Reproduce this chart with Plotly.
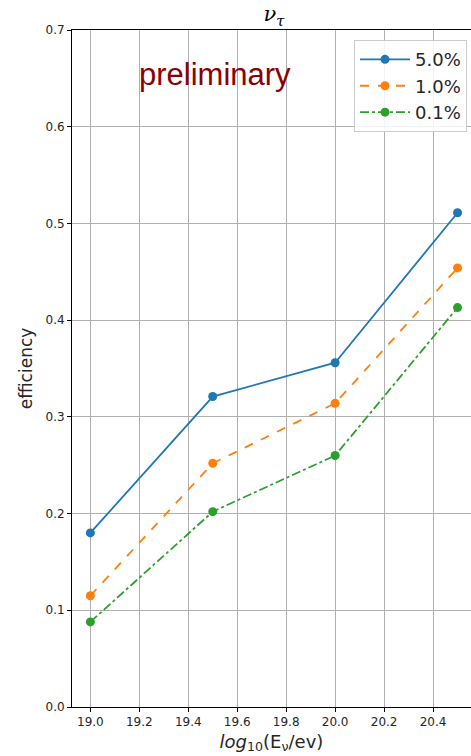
import plotly.graph_objects as go

energies = [19.0, 19.5, 20.0, 20.5]
eff_5_0 = [0.180, 0.321, 0.356, 0.511]
eff_1_0 = [0.115, 0.252, 0.314, 0.454]
eff_0_1 = [0.088, 0.202, 0.260, 0.413]
series_names = ["5.0%", "1.0%", "0.1%"]
x_ticks = [19.0, 19.2, 19.4, 19.6, 19.8, 20.0, 20.2, 20.4]
y_ticks = [0.0, 0.1, 0.2, 0.3, 0.4, 0.5, 0.6, 0.7]

colors = ["#1f77b4", "#ff7f0e", "#2ca02c"]
dashes = ["solid", "dash", "dashdot"]
values = [eff_5_0, eff_1_0, eff_0_1]

fig = go.Figure()
for name, vals, c, d in zip(series_names, values, colors, dashes):
    fig.add_trace(go.Scatter(
        x=energies, y=vals, name=name, mode="lines+markers",
        line=dict(color=c, width=1.8, dash=d),
        marker=dict(color=c, size=9),
    ))

fig.add_annotation(
    x=19.19, y=0.654, xref="x", yref="y", text="preliminary",
    showarrow=False, xanchor="left", yanchor="middle",
    font=dict(family="Liberation Sans, Arial", size=31, color="#8b0000"),
)

fig.update_layout(
    width=471, height=756,
    margin=dict(l=72, r=0, t=30, b=49),
    plot_bgcolor="white", paper_bgcolor="white",
    font=dict(family="DejaVu Sans", color="#262626"),
    title=dict(text="<i>ν</i><sub><i>τ</i></sub>", x=274 / 471, xanchor="center",
               y=1 - 14 / 756, yanchor="middle",
               font=dict(family="DejaVu Serif", size=21, color="black")),
    showlegend=True,
    legend=dict(x=0.99, y=0.985, xanchor="right", yanchor="top",
                bgcolor="rgba(255,255,255,0.85)", bordercolor="#cccccc", borderwidth=1,
                itemwidth=50,
                font=dict(family="DejaVu Sans", size=18, color="#262626")),
)

fig.update_xaxes(
    range=[18.925, 20.555], tickvals=x_ticks, ticktext=[f"{v:.1f}" for v in x_ticks],
    showgrid=True, gridcolor="#b0b0b0", gridwidth=1,
    showline=True, linecolor="black", linewidth=1, mirror=True,
    ticks="outside", ticklen=4, tickcolor="black",
    tickfont=dict(size=12, color="#262626"), zeroline=False,
    title=dict(text="<i>log</i><sub>10</sub>(E<sub>ν</sub>/ev)", font=dict(size=18, color="#262626"), standoff=6),
)
fig.update_yaxes(
    range=[0, 0.7], tickvals=y_ticks, ticktext=[f"{v:.1f}" for v in y_ticks],
    showgrid=True, gridcolor="#b0b0b0", gridwidth=1,
    showline=True, linecolor="black", linewidth=1,
    ticks="outside", ticklen=4, tickcolor="black",
    tickfont=dict(size=12, color="#262626"), zeroline=False,
    title=dict(text="efficiency", font=dict(size=17, color="#262626"), standoff=8),
)

fig.write_html("out.html", config={"displayModeBar": False},
               post_script="document.body.style.margin='0';document.body.style.overflow='hidden';")
